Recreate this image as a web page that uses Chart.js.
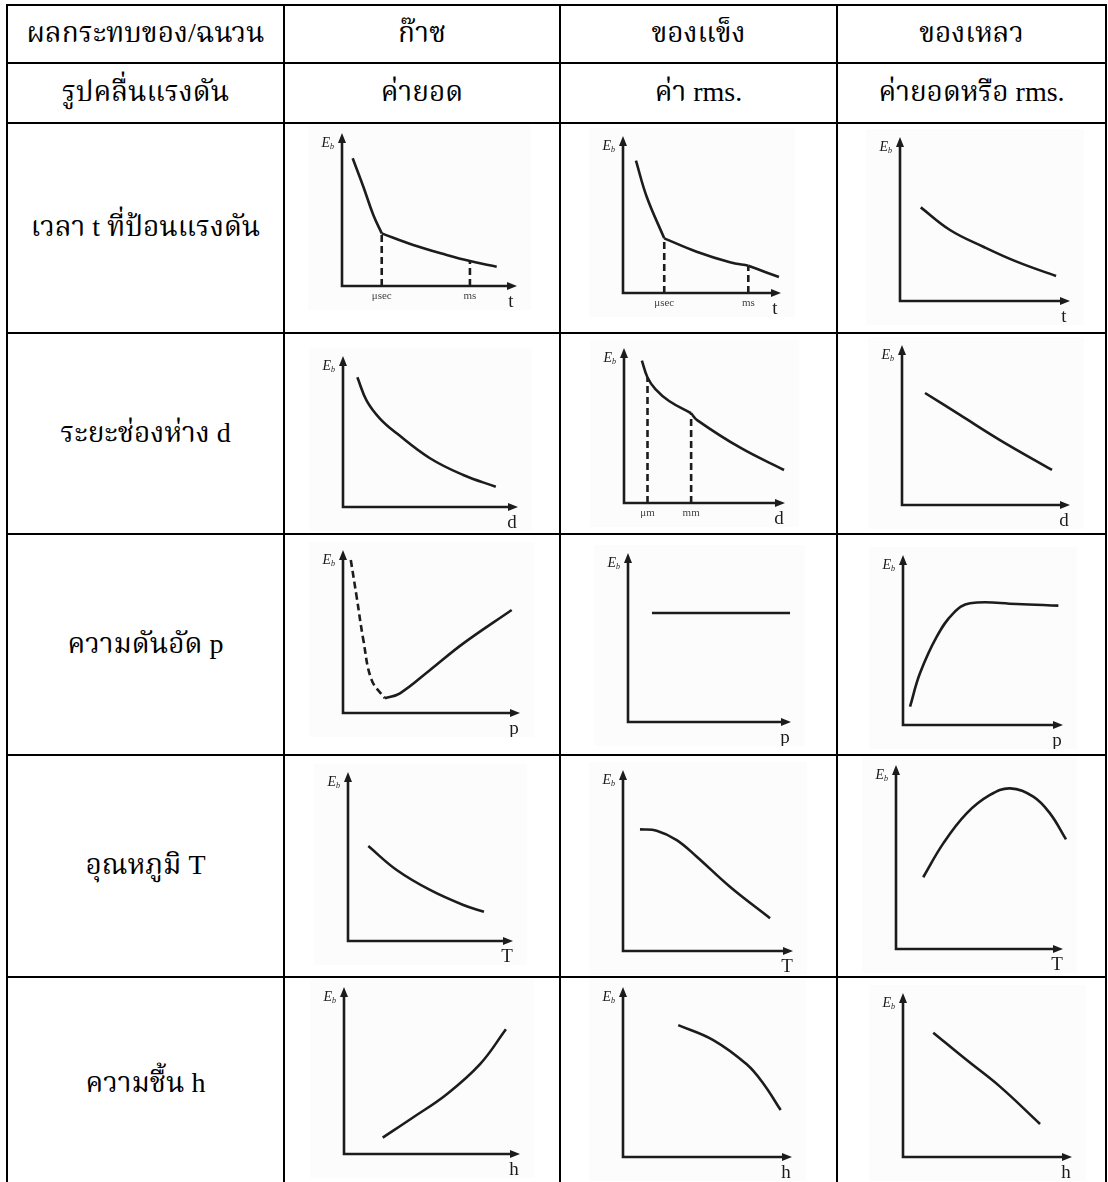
<!DOCTYPE html>
<html>
<head>
<meta charset="utf-8">
<script src="https://cdn.jsdelivr.net/npm/chart.js@4.4.1/dist/chart.umd.min.js"></script>
<style>
  body { margin: 0; background: #fff; }
  #sheet { position: relative; width: 1108px; height: 1182px; overflow: hidden;
           font-family: "Liberation Serif", "Noto Serif Thai", "Noto Sans Thai", serif; }
  .rule { position: absolute; background: #000; }
  .cellText { position: absolute; transform: translate(-50%, -50%); white-space: nowrap;
              font-size: 28px; color: #000; }
  canvas { position: absolute; }
</style>
</head>
<body>
<div id="sheet"></div>
<script>
// table text
const headerTop = ['ผลกระทบของ/ฉนวน', 'ก๊าซ', 'ของแข็ง', 'ของเหลว'];
const headerSub = ['รูปคลื่นแรงดัน', 'ค่ายอด', 'ค่า rms.', 'ค่ายอดหรือ rms.'];
const rowLabels = ['เวลา t ที่ป้อนแรงดัน', 'ระยะช่องห่าง d', 'ความดันอัด p', 'อุณหภูมิ T', 'ความชื้น h'];
const axisLetters = ['t', 'd', 'p', 'T', 'h'];

// Eb against time of application
const gasTimeX = [6.1, 12.2, 17.9, 22.7, 40.7, 59.8, 73.1, 88.4];
const gasTimeY = [83.5, 64.9, 46.4, 34.4, 26.8, 20.3, 16.3, 12.6];
const solidTimeX = [8.2, 15.0, 26.1, 46.6, 67.7, 79.3, 89.9, 98.7];
const solidTimeY = [84.3, 61.3, 34.8, 26.3, 19.6, 17.4, 13.4, 10.2];
const liquidTimeX = [12.2, 29.4, 49.0, 68.6, 91.8];
const liquidTimeY = [57.1, 43.3, 33.1, 24.0, 15.2];
const timeMarks = ['μsec', 'ms'];

// Eb against gap length
const gasGapX = [8.2, 13.5, 21.1, 30.7, 49.7, 68.7, 87.3];
const gasGapY = [85.9, 70.5, 58.6, 48.8, 32.3, 21.2, 13.4];
const solidGapX = [11.1, 14.6, 19.5, 28.0, 41.7, 45.4, 72.5, 99.4];
const solidGapY = [91.8, 81.0, 73.5, 65.8, 57.9, 53.5, 35.5, 21.3];
const liquidGapX = [13.7, 34.5, 58.3, 89.3];
const liquidGapY = [70.0, 56.3, 40.6, 21.9];
const gapMarks = ['μm', 'mm'];

// Eb against pressure
const gasPressDashX = [4.4, 7.7, 11.5, 16.2, 23.7];
const gasPressDashY = [93.9, 71.4, 44.8, 20.2, 9.0];
const gasPressX = [23.7, 32.2, 49.2, 68.0, 95.3];
const gasPressY = [9.0, 12.1, 26.4, 42.7, 63.2];
const solidPressX = [14.7, 99.4];
const solidPressY = [64.5, 64.5];
const liquidPressX = [4.4, 10.6, 21.1, 31.4, 41.9, 71.1, 97.1];
const liquidPressY = [10.8, 30.4, 52.0, 65.7, 71.6, 71.2, 70.2];

// Eb against temperature
const gasTempX = [12.3, 29.5, 49.7, 69.9, 82.4];
const gasTempY = [56.2, 42.0, 30.2, 21.3, 17.3];
const solidTempX = [10.0, 19.8, 31.6, 43.4, 62.9, 86.5];
const solidTempY = [67.2, 66.5, 61.3, 52.1, 35.5, 18.1];
const liquidTempX = [16.3, 28.3, 42.3, 56.3, 68.3, 82.2, 92.2, 101.8];
const liquidTempY = [39.0, 57.4, 73.7, 83.7, 87.3, 82.8, 73.7, 59.6];

// Eb against humidity
const gasHumX = [22.0, 39.4, 58.4, 77.3, 92.0];
const gasHumY = [9.8, 22.0, 35.8, 53.8, 74.7];
const solidHumX = [32.7, 53.4, 73.2, 83.0, 93.3];
const solidHumY = [77.6, 68.8, 54.5, 43.2, 27.6];
const liquidHumX = [17.9, 37.7, 57.4, 81.1];
const liquidHumY = [75.8, 59.1, 42.9, 20.1];

// table geometry
const colLines = [7, 284, 560, 837, 1106];
const rowLines = [5, 63, 123, 333, 534, 755, 977, 1190];

const sheet = document.getElementById('sheet');

function rule(x, y, w, h) {
  const d = document.createElement('div');
  d.className = 'rule';
  Object.assign(d.style, { left: x + 'px', top: y + 'px', width: w + 'px', height: h + 'px' });
  sheet.appendChild(d);
}
colLines.forEach(x => rule(x - 1, rowLines[0] - 1, 2, rowLines[rowLines.length - 1] - rowLines[0] + 2));
rowLines.forEach(y => rule(colLines[0] - 1, y - 1, colLines[colLines.length - 1] - colLines[0] + 2, 2));

function cellText(text, col, row) {
  const d = document.createElement('div');
  d.className = 'cellText';
  d.textContent = text;
  d.style.left = (colLines[col] + colLines[col + 1]) / 2 + 'px';
  d.style.top = (rowLines[row] + rowLines[row + 1]) / 2 + 'px';
  sheet.appendChild(d);
}
headerTop.forEach((t, i) => cellText(t, i, 0));
headerSub.forEach((t, i) => cellText(t, i, 1));
rowLabels.forEach((t, i) => cellText(t, 0, i + 2));

// hand-sketched axes: arrows, E_b, axis letter and tick words
const sketchAxes = {
  id: 'sketchAxes',
  beforeDraw(chart) {
    const ctx = chart.ctx;
    ctx.save();
    ctx.fillStyle = '#fcfcfc';
    ctx.fillRect(0, 0, chart.width, chart.height);
    ctx.restore();
  },
  afterDatasetsDraw(chart, args, opts) {
    const { ctx, chartArea: a, scales: { x } } = chart;
    ctx.save();
    ctx.strokeStyle = '#1c1c1c';
    ctx.fillStyle = '#1c1c1c';
    ctx.lineWidth = 2.6;
    ctx.beginPath();
    ctx.moveTo(a.left, a.top + 6);
    ctx.lineTo(a.left, a.bottom);
    ctx.lineTo(a.right - 6, a.bottom);
    ctx.stroke();
    ctx.beginPath();
    ctx.moveTo(a.left, a.top);
    ctx.lineTo(a.left - 4, a.top + 10);
    ctx.lineTo(a.left + 4, a.top + 10);
    ctx.closePath();
    ctx.fill();
    ctx.beginPath();
    ctx.moveTo(a.right, a.bottom);
    ctx.lineTo(a.right - 10, a.bottom - 4);
    ctx.lineTo(a.right - 10, a.bottom + 4);
    ctx.closePath();
    ctx.fill();

    ctx.textBaseline = 'middle';
    ctx.font = 'italic 14px "Liberation Serif"';
    ctx.textAlign = 'right';
    ctx.fillText('E', a.left - 12, a.top + 10);
    ctx.font = 'italic 8px "Liberation Serif"';
    ctx.textAlign = 'left';
    ctx.fillText('b', a.left - 12, a.top + 14);

    ctx.font = '19px "Liberation Serif"';
    ctx.textAlign = 'center';
    ctx.fillText(opts.letter, a.right - 6, a.bottom + 16);

    ctx.fillStyle = '#444';
    ctx.font = '11px "Liberation Serif"';
    (opts.marks || []).forEach(m => ctx.fillText(m.text, x.getPixelForValue(m.at), a.bottom + 10));
    ctx.restore();
  }
};

function curve(xs, ys, from, to, dashed) {
  const pts = [];
  for (let i = from; i <= to; i++) pts.push({ x: xs[i], y: ys[i] });
  return {
    data: pts, borderColor: '#1c1c1c', borderWidth: 2.6, borderDash: dashed ? [7, 4] : [],
    tension: 0.4, pointRadius: 0, clip: false
  };
}

function guide(xs, ys, i) {
  return {
    data: [{ x: xs[i], y: 0 }, { x: xs[i], y: ys[i] }],
    borderColor: '#1c1c1c', borderWidth: 2.6, borderDash: [7, 4], pointRadius: 0
  };
}

// split a curve at its corners so the corner stays sharp
function cornered(xs, ys, corners) {
  const cuts = [0, ...corners, xs.length - 1];
  const out = [];
  for (let k = 0; k < cuts.length - 1; k++) out.push(curve(xs, ys, cuts[k], cuts[k + 1]));
  return out;
}

const panels = [
  { row: 0, ox: 342, oy: 286, w: 175, h: 153,
    sets: [...cornered(gasTimeX, gasTimeY, [3]), guide(gasTimeX, gasTimeY, 3), guide(gasTimeX, gasTimeY, 6)],
    marks: [{ text: timeMarks[0], at: gasTimeX[3] }, { text: timeMarks[1], at: gasTimeX[6] }] },
  { row: 0, ox: 623, oy: 293, w: 158, h: 157,
    sets: [...cornered(solidTimeX, solidTimeY, [2, 5]), guide(solidTimeX, solidTimeY, 2), guide(solidTimeX, solidTimeY, 5)],
    marks: [{ text: timeMarks[0], at: solidTimeX[2] }, { text: timeMarks[1], at: solidTimeX[5] }] },
  { row: 0, ox: 900, oy: 301, w: 170, h: 164, sets: [curve(liquidTimeX, liquidTimeY, 0, liquidTimeX.length - 1)] },

  { row: 1, ox: 343, oy: 507, w: 175, h: 151, sets: [curve(gasGapX, gasGapY, 0, gasGapX.length - 1)] },
  { row: 1, ox: 624, oy: 503, w: 161, h: 155,
    sets: [...cornered(solidGapX, solidGapY, [4]), guide(solidGapX, solidGapY, 1), guide(solidGapX, solidGapY, 4)],
    marks: [{ text: gapMarks[0], at: solidGapX[1] }, { text: gapMarks[1], at: solidGapX[4] }] },
  { row: 1, ox: 902, oy: 505, w: 168, h: 160, sets: [curve(liquidGapX, liquidGapY, 0, liquidGapX.length - 1)] },

  { row: 2, ox: 343, oy: 713, w: 177, h: 163,
    sets: [curve(gasPressDashX, gasPressDashY, 0, gasPressDashX.length - 1, true), curve(gasPressX, gasPressY, 0, gasPressX.length - 1)] },
  { row: 2, ox: 628, oy: 722, w: 163, h: 169, sets: [curve(solidPressX, solidPressY, 0, solidPressX.length - 1)] },
  { row: 2, ox: 903, oy: 725, w: 160, h: 170, sets: [curve(liquidPressX, liquidPressY, 0, liquidPressX.length - 1)] },

  { row: 3, ox: 348, oy: 941, w: 165, h: 169, sets: [curve(gasTempX, gasTempY, 0, gasTempX.length - 1)] },
  { row: 3, ox: 623, oy: 951, w: 170, h: 181, sets: [curve(solidTempX, solidTempY, 0, solidTempX.length - 1)] },
  { row: 3, ox: 896, oy: 949, w: 167, h: 184, sets: [curve(liquidTempX, liquidTempY, 0, liquidTempX.length - 1)] },

  { row: 4, ox: 344, oy: 1154, w: 176, h: 167, sets: [curve(gasHumX, gasHumY, 0, gasHumX.length - 1)] },
  { row: 4, ox: 623, oy: 1157, w: 169, h: 170, sets: [curve(solidHumX, solidHumY, 0, solidHumX.length - 1)] },
  { row: 4, ox: 903, oy: 1157, w: 169, h: 164, sets: [curve(liquidHumX, liquidHumY, 0, liquidHumX.length - 1)] }
];

const PAD = { left: 34, top: 8, right: 14, bottom: 24 };

panels.forEach(p => {
  const c = document.createElement('canvas');
  const cw = p.w + PAD.left + PAD.right;
  const ch = p.h + PAD.top + PAD.bottom;
  c.width = cw;
  c.height = ch;
  c.style.left = (p.ox - PAD.left) + 'px';
  c.style.top = (p.oy - p.h - PAD.top) + 'px';
  c.style.width = cw + 'px';
  c.style.height = ch + 'px';
  sheet.appendChild(c);

  new Chart(c, {
    type: 'line',
    data: { datasets: p.sets },
    options: {
      responsive: false,
      animation: false,
      layout: { padding: PAD },
      scales: {
        x: { type: 'linear', min: 0, max: 100, display: false },
        y: { type: 'linear', min: 0, max: 100, display: false }
      },
      plugins: {
        legend: { display: false },
        tooltip: { enabled: false },
        sketchAxes: { letter: axisLetters[p.row], marks: p.marks }
      }
    },
    plugins: [sketchAxes]
  });
});
</script>
</body>
</html>
